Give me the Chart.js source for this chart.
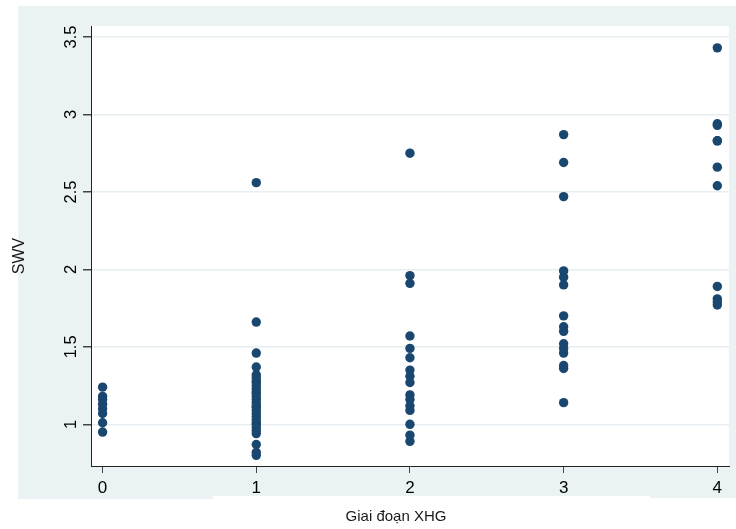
<!DOCTYPE html>
<html>
<head>
<meta charset="utf-8">
<script src="https://cdn.jsdelivr.net/npm/chart.js@4.4.1/dist/chart.umd.min.js"></script>
<style>
  html, body { margin: 0; padding: 0; background: #ffffff; }
  #wrap { width: 736px; height: 529px; }
</style>
</head>
<body>
<div id="wrap"><canvas id="c" width="736" height="529"></canvas></div>
<script>
// SWV measurements grouped by stage (Giai đoạn XHG)
const stages = [0, 1, 2, 3, 4];
const swvStage0 = [1.24, 1.18, 1.16, 1.13, 1.10, 1.07, 1.01, 0.95];
const swvStage1 = [2.56, 1.66, 1.46, 1.37, 1.32, 1.30, 1.28, 1.27, 1.25, 1.23, 1.21, 1.20,
                   1.18, 1.16, 1.14, 1.12, 1.11, 1.09, 1.07, 1.05, 1.03, 1.01, 1.00, 0.98,
                   0.96, 0.94, 0.87, 0.82, 0.80];
const swvStage2 = [2.75, 1.96, 1.91, 1.57, 1.49, 1.43, 1.35, 1.31, 1.27, 1.19, 1.16, 1.12,
                   1.09, 1.00, 0.93, 0.89];
const swvStage3 = [2.87, 2.69, 2.47, 1.99, 1.95, 1.90, 1.70, 1.63, 1.60, 1.52, 1.49, 1.46,
                   1.38, 1.36, 1.14];
const swvStage4 = [3.43, 2.94, 2.93, 2.83, 2.83, 2.66, 2.54, 1.89, 1.81, 1.79, 1.77];

const yTicks = [1, 1.5, 2, 2.5, 3, 3.5];
const yTickLabels = ['1', '1.5', '2', '2.5', '3', '3.5'];
const xTicks = [0, 1, 2, 3, 4];
const xTickLabels = ['0', '1', '2', '3', '4'];
const xTitle = 'Giai đoạn XHG';
const yTitle = 'SWV';

const groups = [swvStage0, swvStage1, swvStage2, swvStage3, swvStage4];
const points = [];
groups.forEach((vals, i) => vals.forEach(v => points.push({ x: stages[i], y: v })));

const FONT = '"Liberation Sans", Arial, sans-serif';
const BG = '#eaf2f3';

const frame = {
  id: 'frame',
  beforeDraw(chart) {
    const { ctx, chartArea: a } = chart;
    ctx.save();
    ctx.fillStyle = '#ffffff';
    ctx.fillRect(0, 0, chart.width, chart.height);
    ctx.fillStyle = BG;
    ctx.fillRect(18, 6, 718, 490);
    ctx.fillRect(18, 496, 195, 3);
    ctx.fillRect(650, 496, 86, 2);
    ctx.fillStyle = '#ffffff';
    ctx.fillRect(a.left, a.top, a.right - a.left, a.bottom - a.top);
    ctx.restore();
  },
  afterDraw(chart) {
    const { ctx } = chart;
    const xs = chart.scales.x, ys = chart.scales.y;
    ctx.save();
    ctx.fillStyle = '#000000';
    ctx.font = '17px ' + FONT;
    ctx.textAlign = 'center';
    ctx.textBaseline = 'alphabetic';
    xTicks.forEach((v, i) => {
      ctx.fillText(xTickLabels[i], xs.getPixelForValue(v), 493);
    });
    ctx.font = '16.5px ' + FONT;
    yTicks.forEach((v, i) => {
      ctx.save();
      ctx.translate(76, ys.getPixelForValue(v));
      ctx.rotate(-Math.PI / 2);
      ctx.fillText(yTickLabels[i], 0, 0);
      ctx.restore();
    });
    ctx.font = '15px ' + FONT;
    ctx.fillStyle = '#1a1a1a';
    ctx.fillText(xTitle, 396, 521);
    ctx.font = '16px ' + FONT;
    ctx.save();
    ctx.translate(24, 256);
    ctx.rotate(-Math.PI / 2);
    ctx.fillText(yTitle, 0, 0);
    ctx.restore();
    ctx.restore();
  }
};

new Chart(document.getElementById('c'), {
  type: 'scatter',
  data: {
    datasets: [{
      data: points,
      backgroundColor: '#1a476f',
      borderWidth: 0,
      pointRadius: 4.7,
      pointHoverRadius: 4.7
    }]
  },
  options: {
    responsive: false,
    devicePixelRatio: 1,
    animation: false,
    layout: { padding: { top: 26, right: 7, left: 0, bottom: 0 } },
    plugins: { legend: { display: false }, tooltip: { enabled: false } },
    scales: {
      x: {
        type: 'linear',
        min: -0.0754,
        max: 4.076,
        afterBuildTicks(s) { s.ticks = xTicks.map(v => ({ value: v })); },
        afterFit(s) { s.height = 63; },
        ticks: { display: false },
        grid: { drawOnChartArea: false, drawTicks: true, tickLength: 7, tickColor: '#444444', lineWidth: 1 },
        border: { display: true, color: '#222222', width: 1 }
      },
      y: {
        type: 'linear',
        min: 0.731,
        max: 3.571,
        afterBuildTicks(s) { s.ticks = yTicks.map(v => ({ value: v })); },
        afterFit(s) { s.width = 91; },
        ticks: { display: false },
        grid: { color: '#e6eef1', lineWidth: 1.5, drawTicks: true, tickLength: 8, tickColor: '#444444' },
        border: { display: true, color: '#222222', width: 1 }
      }
    }
  },
  plugins: [frame]
});
</script>
</body>
</html>
